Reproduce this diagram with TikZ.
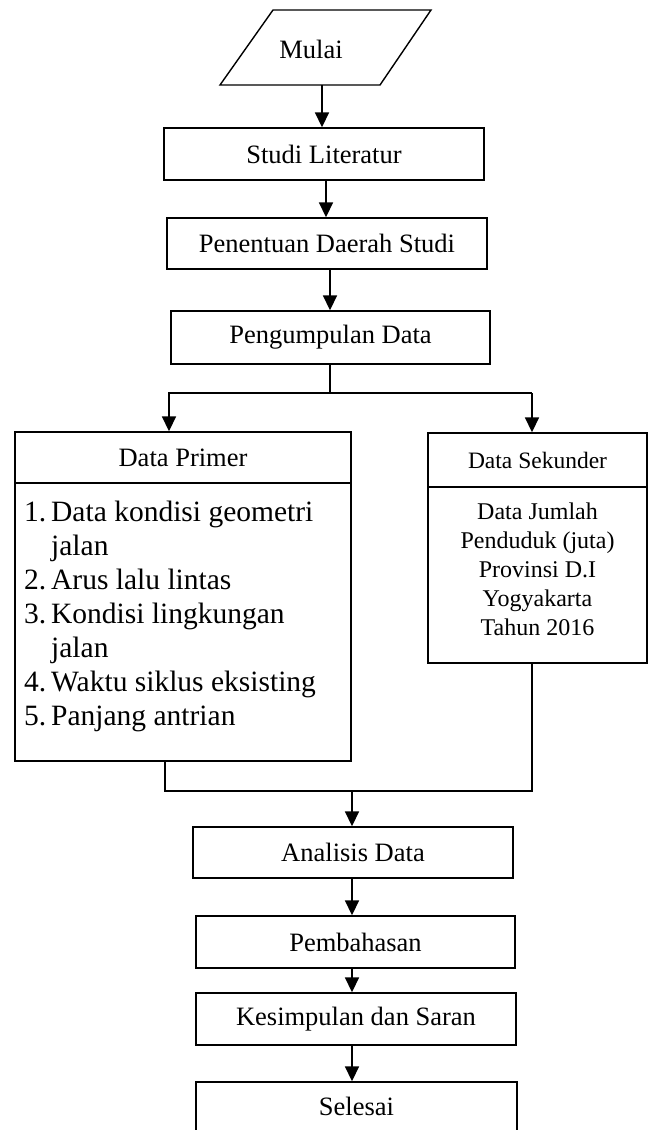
\documentclass[tikz,border=0pt]{standalone}
\usepackage{fontspec}
\setmainfont{Liberation Serif}
\usetikzlibrary{arrows.meta}
\tikzset{
  boxline/.style={line width=1.4pt},
  box/.style={draw, boxline, inner sep=0pt, font=\fontsize{26.5}{30}\selectfont},
  lbl/.style={inner sep=0pt, font=\fontsize{26.5}{30}\selectfont},
  ln/.style={line width=1.7pt},
  arr/.style={line width=1.7pt, -{Triangle[length=15pt,width=14pt]}},
  lst/.style={anchor=base west, inner sep=0pt, font=\fontsize{29.5}{34}\selectfont},
  sekt/.style={anchor=base, inner sep=0pt, font=\fontsize{24}{29}\selectfont},
}
\newcommand{\num}[1]{\makebox[27pt][l]{#1}}
\begin{document}
\begin{tikzpicture}[x=1pt,y=-1pt]
\useasboundingbox (0,0) rectangle (649,1130);
% start (parallelogram)
\draw[boxline] (273,10) -- (431,10) -- (380,85) -- (220,85) -- cycle;
\node[lbl] (mulai) at (311,49) {Mulai};
\coordinate (mB) at (322,85);
% central boxes
\node[box, minimum width=320pt, minimum height=52pt] (studi) at (324,154) {Studi Literatur};
\node[box, minimum width=320pt, minimum height=51pt] (pen) at (327,243.5) {Penentuan Daerah Studi};
\node[box, minimum width=319pt, minimum height=53pt] (peng) at (330.5,337.5) {Pengumpulan Data};
% Data Primer
\node[draw, boxline, inner sep=0pt, minimum width=336pt, minimum height=329pt] (primer) at (183,596.5) {};
\draw[boxline] (primer.west |- 0,483) -- (primer.east |- 0,483);
\node[lbl] (primT) at (183,458) {Data Primer};
\node[lst] (p1) at (24,521) {\num{1.}Data kondisi geometri};
\node[lst] (p2) at (51,555) {jalan};
\node[lst] (p3) at (24,589) {\num{2.}Arus lalu lintas};
\node[lst] (p4) at (24,623) {\num{3.}Kondisi lingkungan};
\node[lst] (p5) at (51,657) {jalan};
\node[lst] (p6) at (24,691) {\num{4.}Waktu siklus eksisting};
\node[lst] (p7) at (24,725) {\num{5.}Panjang antrian};
% Data Sekunder
\node[draw, boxline, inner sep=0pt, minimum width=219pt, minimum height=230pt] (sek) at (537.5,548) {};
\draw[boxline] (sek.west |- 0,487) -- (sek.east |- 0,487);
\node[inner sep=0pt, font=\fontsize{23.5}{27}\selectfont] (sekT) at (537.5,460) {Data Sekunder};
\node[sekt] (s1) at (537.5,519) {Data Jumlah};
\node[sekt] (s2) at (537.5,548.2) {Penduduk (juta)};
\node[sekt] (s3) at (537.5,577.4) {Provinsi D.I};
\node[sekt] (s4) at (537.5,606.6) {Yogyakarta};
\node[sekt] (s5) at (537.5,635.8) {Tahun 2016};
% lower boxes
\node[box, minimum width=320pt, minimum height=51pt] (ana) at (353,852.5) {Analisis Data};
\node[box, minimum width=319pt, minimum height=52pt] (pemb) at (355.5,942) {Pembahasan};
\node[box, minimum width=320pt, minimum height=52pt] (kes) at (356,1019) {Kesimpulan dan Saran};
\node[box, minimum width=321pt, minimum height=49pt] (sel) at (356.5,1106.5) {Selesai};
% connectors top
\draw[arr] (mB) -- (mB |- studi.north);
\draw[arr] ([xshift=2pt]studi.south) -- ([xshift=2pt]studi.south |- pen.north);
\draw[arr] ([xshift=3pt]pen.south) -- ([xshift=3pt]pen.south |- peng.north);
\coordinate (jl) at (169,393);
\coordinate (jr) at (532,393);
\draw[ln] ([xshift=-0.5pt]peng.south) -- ([xshift=-0.5pt]peng.south |- jl);
\draw[arr] (jr) -- (jl) -- (jl |- primer.north);
\draw[arr] (jr) -- (jr |- sek.north);
% merge
\coordinate (ml) at (165,791);
\coordinate (mr) at (532,791);
\coordinate (ax) at (352,791);
\draw[ln] (primer.south -| ml) -- (ml) -- (mr) -- (sek.south -| mr);
\draw[arr] (ax) -- (ax |- ana.north);
\draw[arr] (ana.south -| ax) -- (ax |- pemb.north);
\draw[arr] (pemb.south -| ax) -- (ax |- kes.north);
\draw[arr] (kes.south -| ax) -- (ax |- sel.north);
\end{tikzpicture}
\end{document}
